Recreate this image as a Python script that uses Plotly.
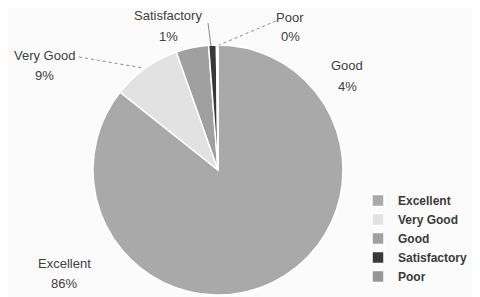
import plotly.graph_objects as go

# ---- data ----
categories = ["Excellent", "Very Good", "Good", "Satisfactory", "Poor"]
values = [85.7, 8.9, 4.2, 1.0, 0.2]
colors = ["#a9a9a9", "#e2e2e2", "#a0a0a0", "#383838", "#969696"]

# the page shows the figure with an 8px body margin
OFF = 8
W, H = 480 - OFF, 297 - OFF
def px(x):
    return (x - OFF) / W
def py(y):
    return 1 - (y - OFF) / H

# label positions (pixel centres in the 480x297 view) for the outside labels
label_pos = {
    "Excellent": (64, 263),
    "Very Good": (44, 55),
    "Good": (347, 66),
    "Satisfactory": (168, 16),
    "Poor": (290, 17),
}

cx, cy, r = 218, 170, 125

fig = go.Figure(go.Pie(
    labels=categories,
    values=values,
    sort=False,
    direction="clockwise",
    rotation=0,
    marker=dict(colors=colors, line=dict(color="white", width=1.5)),
    textinfo="none",
    hoverinfo="label+percent",
    domain=dict(x=[px(cx - r), px(cx + r)], y=[py(cy + r), py(cy - r)]),
))

total = sum(values)
annotations = []
for cat, v in zip(categories, values):
    x, y = label_pos[cat]
    pct = f"{round(v / total * 100):d}%"
    annotations.append(dict(x=px(x), y=py(y), xref="paper", yref="paper",
                            text=cat, showarrow=False, xanchor="center", yanchor="middle",
                            font=dict(family="Liberation Sans", size=13, color="#404040")))
    annotations.append(dict(x=px(x), y=py(y + 20), xref="paper", yref="paper",
                            text=pct, showarrow=False, xanchor="center", yanchor="middle",
                            font=dict(family="Liberation Sans", size=13, color="#404040")))

leaders = [((208, 23), (211, 46), "solid"), ((276, 21), (219, 45), "dot"), ((79, 57), (143, 68), "dot")]
shapes = [dict(type="line", xref="paper", yref="paper",
               x0=px(a[0]), y0=py(a[1]), x1=px(b[0]), y1=py(b[1]),
               line=dict(color="#8a8a8a", width=1, dash=d)) for a, b, d in leaders]

fig.update_layout(
    width=W, height=H,
    margin=dict(l=0, r=0, t=0, b=0, autoexpand=False),
    paper_bgcolor="#fbfbfb",
    plot_bgcolor="#fbfbfb",
    annotations=annotations,
    shapes=shapes,
    showlegend=True,
    legend=dict(x=px(358), y=py(186), xanchor="left", yanchor="top",
                font=dict(family="Liberation Sans", size=12, color="#3a3a3a", weight="bold"),
                bgcolor="rgba(0,0,0,0)", tracegroupgap=0, itemwidth=30),
)

fig.write_html("out.html")
